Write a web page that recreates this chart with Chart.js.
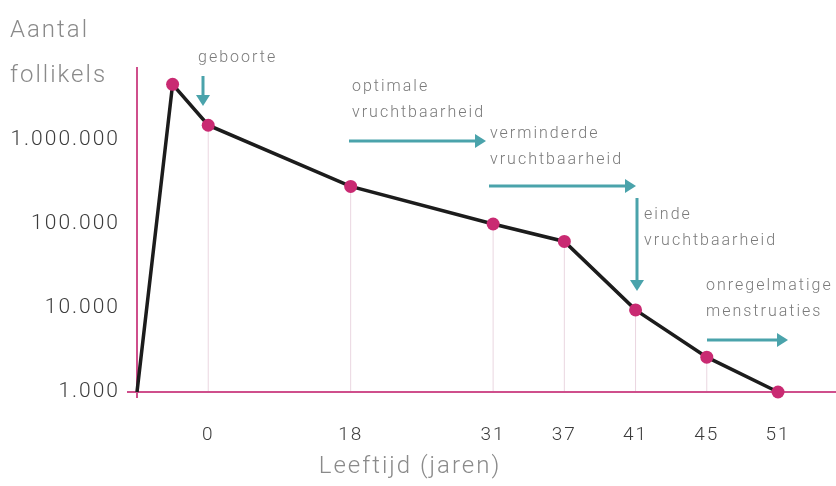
<!DOCTYPE html>
<html>
<head>
<meta charset="utf-8">
<script src="https://cdn.jsdelivr.net/npm/chart.js@4/dist/chart.umd.min.js"></script>
<style>
  html, body { margin: 0; padding: 0; background: #fff; }
  #wrap { width: 836px; height: 486px; }
</style>
</head>
<body>
<div id="wrap"><canvas id="chart-canvas"></canvas></div>
<script>
// age axis: blank entries keep the uneven spacing of the original figure
const ageLabels = ['', '', '0', '', '', '', '18', '', '', '', '31', '', '37', '', '41', '', '45', '', '51'];
// number of follicles (log scale)
const follicles = [1000, 4600000, 1500000, null, null, null, 280000, null, null, null, 100000, null, 62000, null, 9500, null, 2600, null, 1000];
const yTickValues = [1000, 10000, 100000, 1000000];

const yTitle = ['Aantal', 'follikels'];
const xTitle = 'Leeftijd (jaren)';

// text + arrows drawn on top (pixel layout)
const notes = [
  { lines: ['geboorte'], x: 198, y: 58, arrow: [203, 76, 203, 106] },
  { lines: ['optimale', 'vruchtbaarheid'], x: 352, y: 87, arrow: [349, 141, 486, 141] },
  { lines: ['verminderde', 'vruchtbaarheid'], x: 490, y: 134, arrow: [489, 186, 636, 186] },
  { lines: ['einde', 'vruchtbaarheid'], x: 644, y: 215, arrow: [637, 198, 637, 291] },
  { lines: ['onregelmatige', 'menstruaties'], x: 706, y: 286, arrow: [707, 340, 788, 340] }
];

const PINK = '#cf4f8c';
const DOT = '#c92a72';
const TEAL = '#4aa3ab';
const FONT = 'Roboto, "Liberation Sans", sans-serif';

function drawArrow(ctx, x1, y1, x2, y2) {
  const ang = Math.atan2(y2 - y1, x2 - x1);
  const head = 11;
  ctx.beginPath();
  ctx.moveTo(x1, y1);
  ctx.lineTo(x2 - Math.cos(ang) * head * 0.8, y2 - Math.sin(ang) * head * 0.8);
  ctx.stroke();
  ctx.beginPath();
  ctx.moveTo(x2, y2);
  ctx.lineTo(x2 - head * Math.cos(ang) + 7 * Math.sin(ang), y2 - head * Math.sin(ang) - 7 * Math.cos(ang));
  ctx.lineTo(x2 - head * Math.cos(ang) - 7 * Math.sin(ang), y2 - head * Math.sin(ang) + 7 * Math.cos(ang));
  ctx.closePath();
  ctx.fill();
}

const decorations = {
  id: 'decorations',
  beforeDraw(chart) {
    chart.ctx.letterSpacing = '2px';
  },
  beforeDatasetsDraw(chart) {
    const { ctx, scales: { x, y } } = chart;
    const base = y.getPixelForValue(1000);
    ctx.save();
    // drop lines from labelled points down to the axis
    ctx.strokeStyle = '#ead6e0';
    ctx.lineWidth = 1;
    follicles.forEach((v, i) => {
      if (v === null || ageLabels[i] === '') return;
      const px = x.getPixelForValue(i);
      ctx.beginPath();
      ctx.moveTo(px, y.getPixelForValue(v));
      ctx.lineTo(px, base);
      ctx.stroke();
    });
    // x axis line, running past the last point
    ctx.strokeStyle = PINK;
    ctx.lineWidth = 2;
    ctx.beginPath();
    ctx.moveTo(x.left - 10, base);
    ctx.lineTo(chart.width, base);
    ctx.stroke();
    ctx.beginPath();
    ctx.moveTo(x.left, base);
    ctx.lineTo(x.left, base + 6);
    ctx.stroke();
    ctx.restore();
  },
  afterDraw(chart) {
    const { ctx } = chart;
    ctx.save();
    ctx.textBaseline = 'middle';
    // axis titles
    ctx.fillStyle = '#8a8a8a';
    ctx.font = '300 24px ' + FONT;
    ctx.textAlign = 'left';
    ctx.fillText(yTitle[0], 10, 31);
    ctx.fillText(yTitle[1], 10, 76);
    ctx.textAlign = 'center';
    ctx.fillText(xTitle, 410, 467);
    // annotations
    ctx.font = '300 16px ' + FONT;
    ctx.textAlign = 'left';
    notes.forEach(n => {
      ctx.fillStyle = '#7a7a7a';
      n.lines.forEach((l, k) => ctx.fillText(l, n.x, n.y + k * 26));
      ctx.strokeStyle = TEAL;
      ctx.fillStyle = TEAL;
      ctx.lineWidth = 3;
      drawArrow(ctx, ...n.arrow);
    });
    ctx.restore();
  }
};

new Chart(document.getElementById('chart-canvas'), {
  type: 'line',
  plugins: [decorations],
  data: {
    labels: ageLabels,
    datasets: [{
      data: follicles,
      spanGaps: true,
      borderColor: '#1c1c1c',
      borderWidth: 3.5,
      pointRadius: follicles.map((v, i) => i === 0 ? 0 : 6.5),
      pointBackgroundColor: DOT,
      pointBorderWidth: 0,
      tension: 0,
      clip: false
    }]
  },
  options: {
    responsive: true,
    maintainAspectRatio: false,
    animation: false,
    events: [],
    layout: { padding: { top: 68, right: 58, bottom: 0, left: 0 } },
    plugins: {
      legend: { display: false },
      tooltip: { enabled: false }
    },
    scales: {
      x: {
        type: 'category',
        offset: false,
        grid: { display: false },
        border: { display: false },
        afterFit(scale) { scale.height = 94; },
        ticks: {
          autoSkip: false,
          maxRotation: 0,
          padding: 24,
          color: '#3c3c3c',
          font: { family: FONT, size: 19, weight: '300' }
        }
      },
      y: {
        type: 'logarithmic',
        min: 1000,
        max: 7200000,
        grid: { display: false },
        border: { display: true, color: PINK, width: 2 },
        afterFit(scale) { scale.width = 137; },
        afterBuildTicks(scale) {
          scale.ticks = yTickValues.map(v => ({ value: v }));
        },
        ticks: {
          padding: 9,
          color: '#3c3c3c',
          font: { family: FONT, size: 21, weight: '300' },
          callback: v => v.toLocaleString('nl-NL')
        }
      }
    }
  }
});
</script>
</body>
</html>
